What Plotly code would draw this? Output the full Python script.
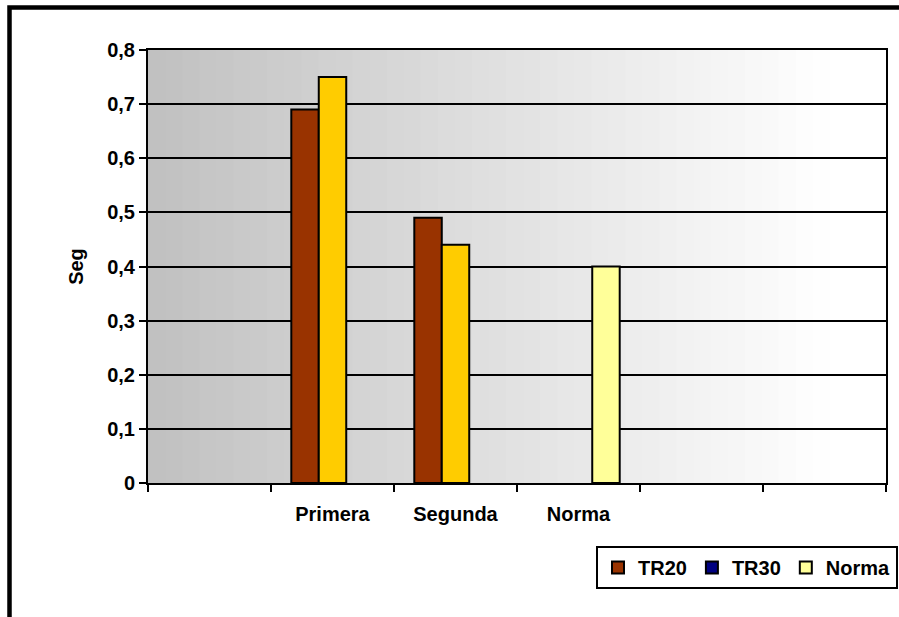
import plotly.graph_objects as go

# ---- data ----
categories = [" ", "Primera", "Segunda", "Norma", "  ", "   "]
tr20 = [None, 0.69, 0.49, None, None, None]
tr30 = [None, 0.75, 0.44, None, None, None]
norma = [None, None, None, 0.40, None, None]
y_ticks = [0, 0.1, 0.2, 0.3, 0.4, 0.5, 0.6, 0.7, 0.8]
y_ticktext = ["0", "0,1", "0,2", "0,3", "0,4", "0,5", "0,6", "0,7", "0,8"]

FONT = "Liberation Sans, Arial, sans-serif"
FS = 20
W, H = 899, 617
L, R, T, B = 148, 13, 50, 134
PW = W - L - R
PH = H - T - B

fig = go.Figure()
fig.add_trace(go.Bar(name="TR20", x=categories, y=tr20,
                     marker=dict(color="#993300", line=dict(color="black", width=2))))
fig.add_trace(go.Bar(name="TR30", x=categories, y=tr30,
                     marker=dict(color=["#000080", "#FFCC00", "#FFCC00", "#FFCC00", "#FFCC00", "#FFCC00"],
                                 line=dict(color="black", width=2))))
fig.add_trace(go.Bar(name="Norma", x=categories, y=norma,
                     marker=dict(color="#FFFF99", line=dict(color="black", width=2))))

# gradient background (banded like the original)
shapes = []
n = 40
white_at = (830 - L) / PW
for i in range(n):
    x0 = white_at * i / n
    x1 = white_at * (i + 1) / n + 0.002
    v = int(round(192 + (255 - 192) * (i + 0.5) / n))
    shapes.append(dict(type="rect", xref="x domain", yref="y domain", x0=x0, x1=x1, y0=0, y1=1,
                       fillcolor=f"rgb({v},{v},{v})", line=dict(width=0), layer="below"))
shapes.append(dict(type="rect", xref="x domain", yref="y domain", x0=white_at, x1=1, y0=0, y1=1,
                   fillcolor="white", line=dict(width=0), layer="below"))
# outer chart border (extends past the right and bottom of the view)
shapes.append(dict(type="rect", xref="paper", yref="paper",
                   x0=(9.5 - L) / PW, x1=1.3, y0=-0.6, y1=(H - B - 7.5) / PH,
                   line=dict(color="black", width=4.5), fillcolor="rgba(0,0,0,0)", layer="above"))

fig.update_layout(
    width=W, height=H,
    margin=dict(l=L, r=R, t=T, b=B, pad=0, autoexpand=False),
    paper_bgcolor="white", plot_bgcolor="rgba(0,0,0,0)",
    barmode="group", bargap=0.33, bargroupgap=0,
    font=dict(family=FONT, size=FS, color="black", weight="bold"),
    shapes=shapes,
    showlegend=True,
    legend=dict(orientation="h", x=(898 - L) / PW, xanchor="right",
                y=(H - B - 546) / PH, yanchor="top",
                bgcolor="white", bordercolor="black", borderwidth=2,
                font=dict(family=FONT, size=FS, color="black", weight="bold"),
                traceorder="normal"),
)
fig.update_xaxes(type="category", categoryorder="array", categoryarray=categories,
                 showline=True, linecolor="black", linewidth=2, mirror=True,
                 ticks="outside", tickson="boundaries", ticklen=7, tickwidth=2, tickcolor="black",
                 ticklabelstandoff=12, showgrid=False, zeroline=False,
                 tickfont=dict(family=FONT, size=FS, color="black", weight="bold"))
fig.update_yaxes(range=[0, 0.8], tickvals=y_ticks, ticktext=y_ticktext,
                 showline=True, linecolor="black", linewidth=2, mirror=True,
                 ticks="outside", ticklen=7, tickwidth=2, tickcolor="black",
                 showgrid=True, gridcolor="black", gridwidth=2, zeroline=False,
                 tickfont=dict(family=FONT, size=FS, color="black", weight="bold"),
                 title=dict(text="Seg", standoff=18,
                            font=dict(family=FONT, size=FS, color="black", weight="bold")))

fig.write_html("out.html")
